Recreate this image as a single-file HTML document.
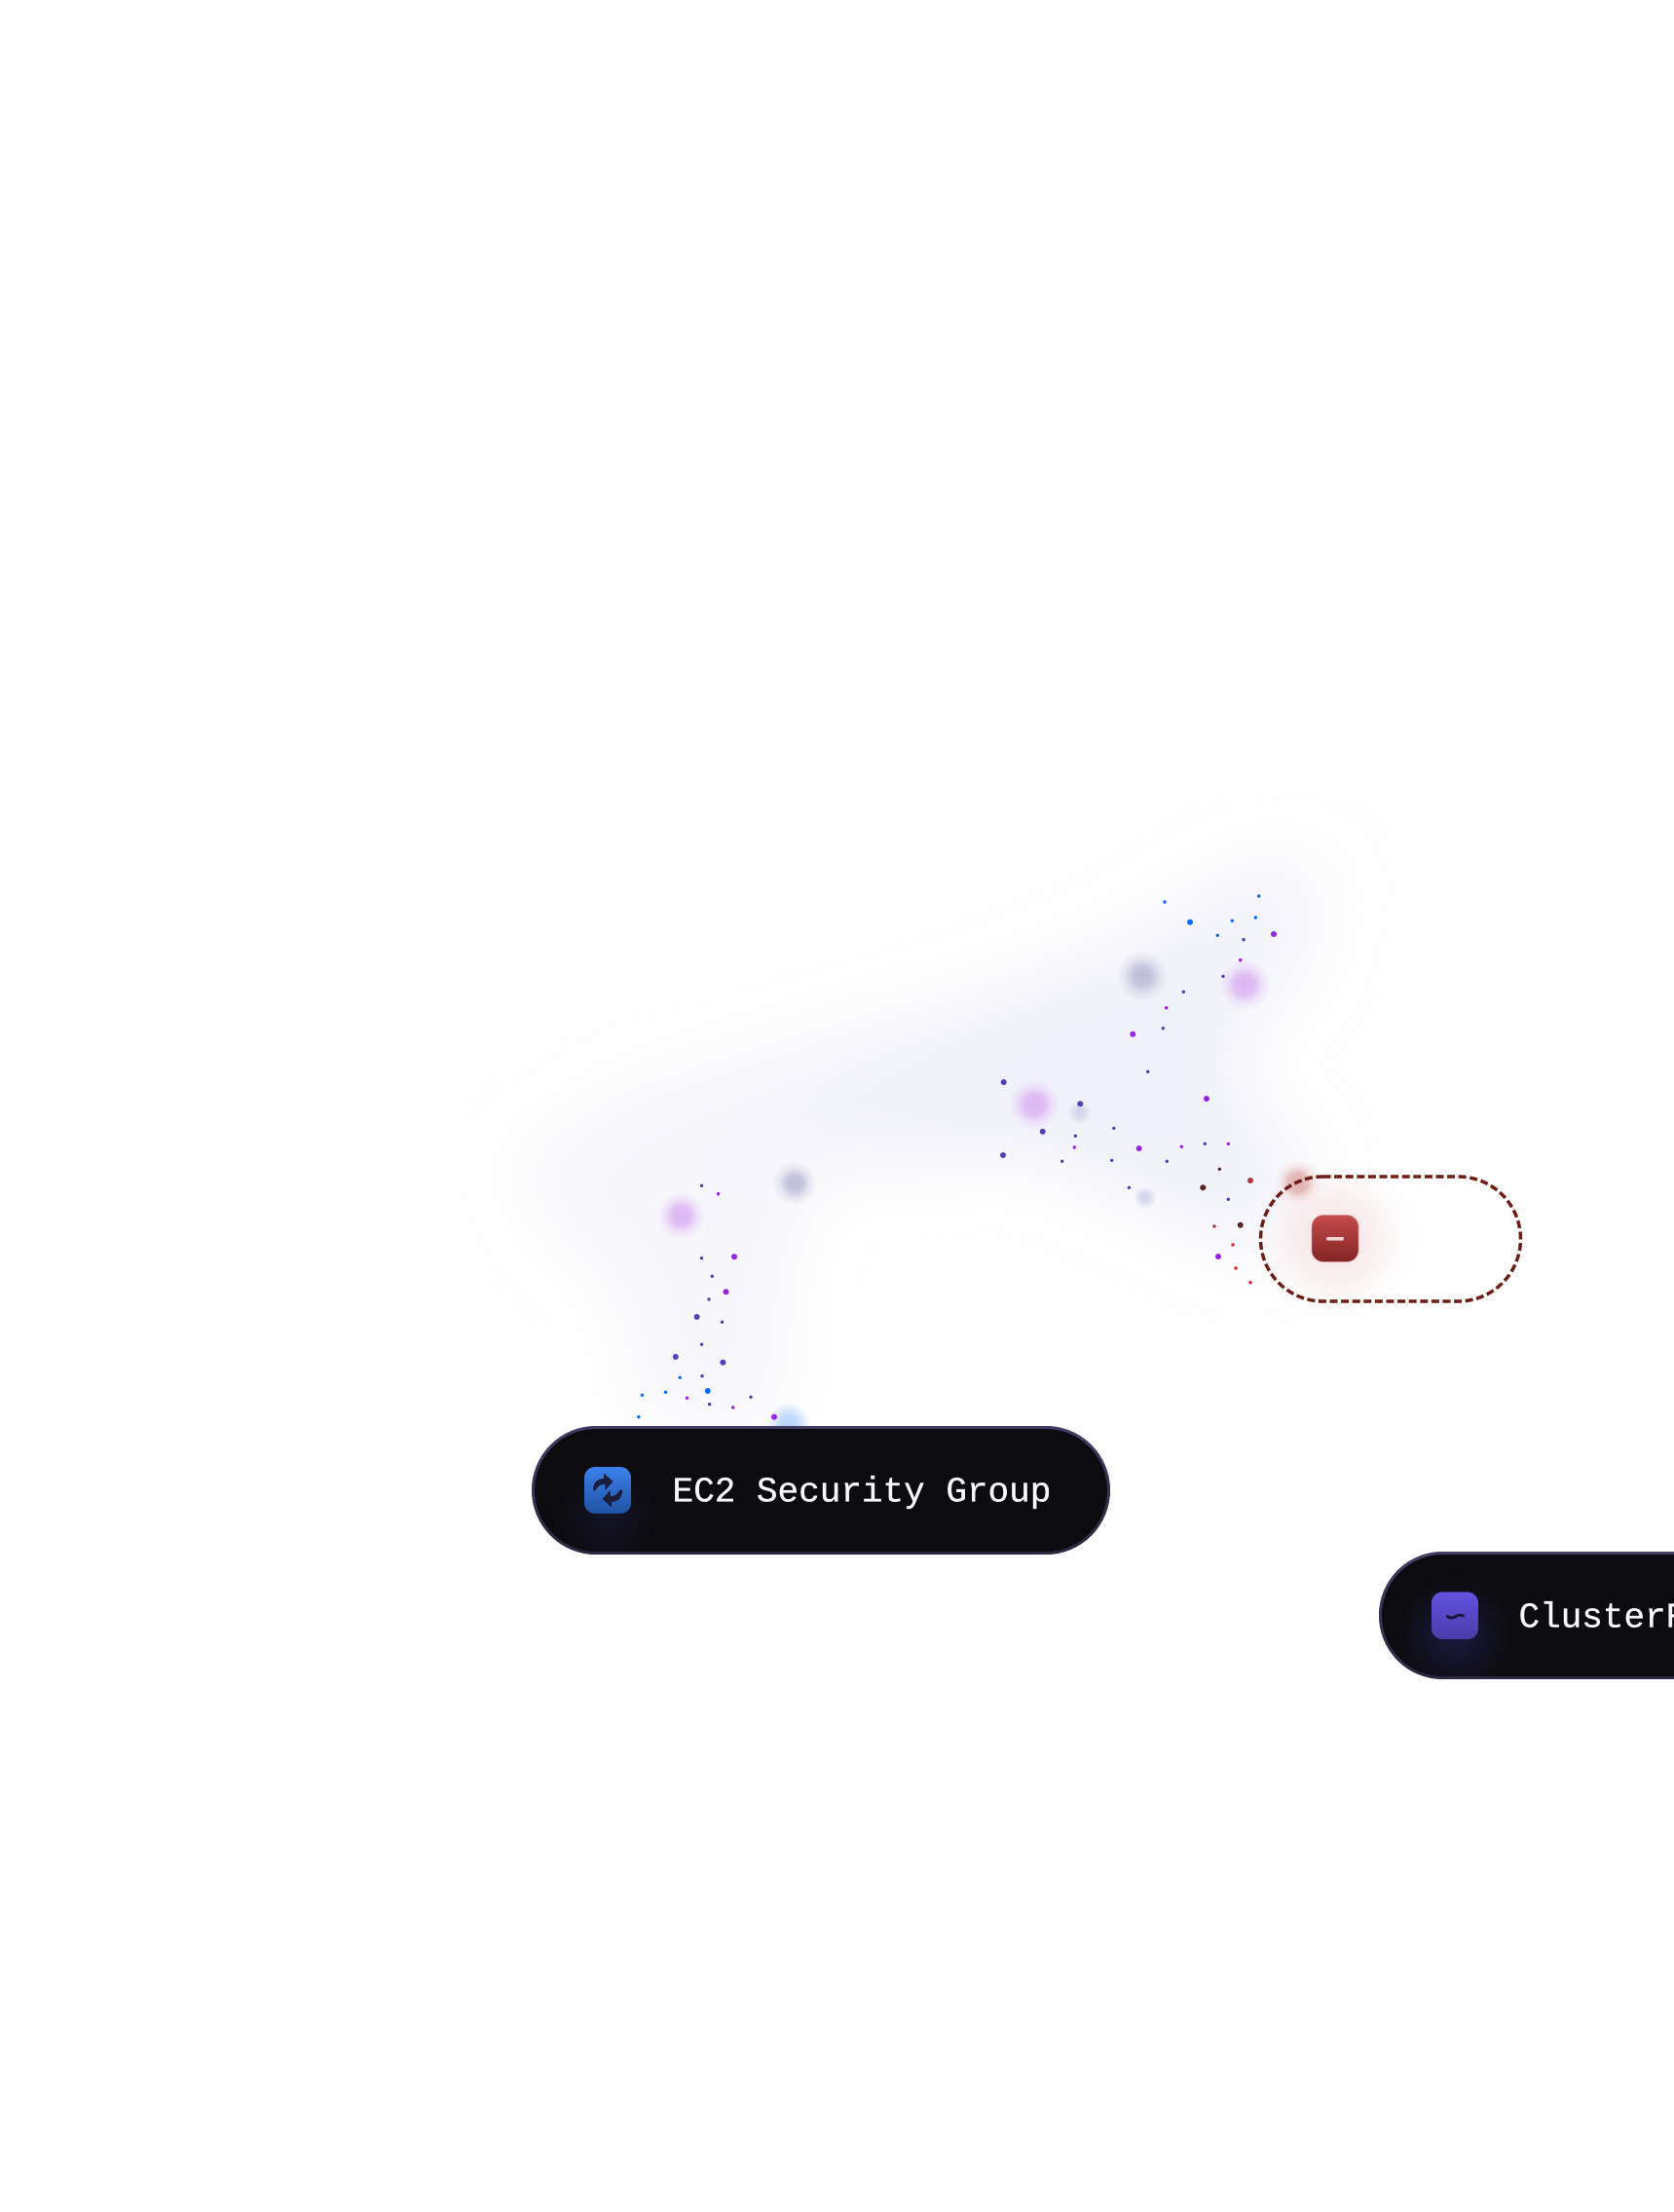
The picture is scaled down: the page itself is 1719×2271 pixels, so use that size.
<!DOCTYPE html>
<html>
<head>
<meta charset="utf-8">
<style>
html,body{margin:0;padding:0;background:#fefefe;width:1719px;height:2271px;overflow:hidden}
svg{display:block}
text{font-family:"Liberation Mono",monospace;font-size:36px}
</style>
</head>
<body>
<svg width="1719" height="2271" viewBox="0 0 1719 2271" xmlns="http://www.w3.org/2000/svg">
<defs>
<filter id="blur" x="-30%" y="-30%" width="160%" height="160%"><feGaussianBlur stdDeviation="34"/></filter>
<radialGradient id="flow" gradientUnits="userSpaceOnUse" cx="1130" cy="1100" r="680"><stop offset="0" stop-color="#eff0f9"/><stop offset=".45" stop-color="#f4f4fb"/><stop offset="1" stop-color="#f8f8fc"/></radialGradient>
<radialGradient id="gGray"><stop offset="0" stop-color="#bebcd6"/><stop offset=".35" stop-color="#c2c0da" stop-opacity=".9"/><stop offset=".68" stop-color="#c8c6de" stop-opacity=".35"/><stop offset="1" stop-color="#d0cee4" stop-opacity="0"/></radialGradient>
<radialGradient id="gPurple"><stop offset="0" stop-color="#dcb6f2"/><stop offset=".4" stop-color="#deb9f3" stop-opacity=".9"/><stop offset=".7" stop-color="#e4c6f5" stop-opacity=".38"/><stop offset="1" stop-color="#e8d0f6" stop-opacity="0"/></radialGradient>
<radialGradient id="gLight"><stop offset="0" stop-color="#d3d2ea"/><stop offset=".4" stop-color="#d6d5ec" stop-opacity=".85"/><stop offset="1" stop-color="#d6d5ec" stop-opacity="0"/></radialGradient>
<radialGradient id="gBlue"><stop offset="0" stop-color="#b4d4f8"/><stop offset=".4" stop-color="#b8d6f8" stop-opacity=".85"/><stop offset="1" stop-color="#b8d6f8" stop-opacity="0"/></radialGradient>
<radialGradient id="gRed"><stop offset="0" stop-color="#deaaaa"/><stop offset=".4" stop-color="#e2b4b4" stop-opacity=".85"/><stop offset=".7" stop-color="#ecc8c8" stop-opacity=".32"/><stop offset="1" stop-color="#f0d4d4" stop-opacity="0"/></radialGradient>
<radialGradient id="gRedHalo"><stop offset="0" stop-color="#eab8b8" stop-opacity=".45"/><stop offset=".55" stop-color="#f0cccc" stop-opacity=".26"/><stop offset=".8" stop-color="#f6e2e2" stop-opacity=".14"/><stop offset="1" stop-color="#f8eaea" stop-opacity="0"/></radialGradient>
<radialGradient id="gIndigo"><stop offset="0" stop-color="#231f55" stop-opacity=".7"/><stop offset="1" stop-color="#231f55" stop-opacity="0"/></radialGradient>
<linearGradient id="bd" x1="0" y1="0" x2="0" y2="1"><stop offset="0" stop-color="#433c66"/><stop offset="1" stop-color="#2b2840"/></linearGradient>
<linearGradient id="ib" x1="0" y1="0" x2="0" y2="1"><stop offset="0" stop-color="#3b81ec"/><stop offset="1" stop-color="#2053a3"/></linearGradient>
<linearGradient id="ip" x1="0" y1="0" x2="0" y2="1"><stop offset="0" stop-color="#6353e0"/><stop offset="1" stop-color="#4a3caa"/></linearGradient>
<linearGradient id="ir" x1="0" y1="0" x2="0" y2="1"><stop offset="0" stop-color="#c64c4c"/><stop offset="1" stop-color="#822424"/></linearGradient>
<clipPath id="p1"><rect x="546" y="1464" width="594" height="132" rx="66"/></clipPath>
<clipPath id="p2"><rect x="1416" y="1593" width="800" height="131" rx="65.5"/></clipPath>
</defs>

<!-- soft flow field -->
<path filter="url(#blur)" fill="url(#flow)" d="M535 1195 L650 1125 L810 1080 L1000 1030 L1150 975 L1290 890 L1355 895 L1335 990 L1265 1075 L1280 1130 L1340 1195 L1320 1265 L1280 1285 L1180 1235 L1060 1185 L840 1200 L805 1290 L795 1460 L665 1460 L640 1320 L570 1255 Z"/>

<!-- halo around red icon -->
<circle cx="1371" cy="1272" r="82" fill="url(#gRedHalo)"/>

<!-- blurred glows -->
<circle cx="1173.3" cy="1002.3" r="27" fill="url(#gGray)"/>
<circle cx="1278.3" cy="1011" r="27" fill="url(#gPurple)"/>
<circle cx="1062.3" cy="1134.3" r="27" fill="url(#gPurple)"/>
<circle cx="1108.7" cy="1142.3" r="12" fill="url(#gLight)"/>
<circle cx="1175.8" cy="1229.5" r="12" fill="url(#gLight)"/>
<circle cx="699.6" cy="1248.3" r="25" fill="url(#gPurple)"/>
<circle cx="816" cy="1215" r="23" fill="url(#gGray)"/>
<circle cx="810" cy="1462" r="22" fill="url(#gBlue)"/>
<circle cx="1332.7" cy="1214.3" r="25" fill="url(#gRed)"/>

<!-- blue particles -->
<g fill="#0a6cf6">
<circle cx="1196" cy="926" r="1.7"/><circle cx="1222" cy="946.7" r="3"/><circle cx="1265.3" cy="945.3" r="1.7"/><circle cx="1292.7" cy="920" r="1.7"/><circle cx="1289.3" cy="942" r="1.7"/><circle cx="1250.3" cy="960.3" r="1.7"/>
<circle cx="659.4" cy="1432.3" r="1.7"/><circle cx="683.5" cy="1429.3" r="1.7"/><circle cx="726.8" cy="1428" r="3"/><circle cx="655.8" cy="1454.7" r="1.7"/><circle cx="698.2" cy="1414.3" r="1.7"/>
</g>
<!-- purple particles -->
<g fill="#9a22e2">
<circle cx="1308" cy="959" r="3"/><circle cx="1273.7" cy="985.7" r="1.7"/><circle cx="1197.7" cy="1034.7" r="1.7"/><circle cx="1163.3" cy="1061.7" r="3"/><circle cx="1239" cy="1128" r="3"/><circle cx="1169.7" cy="1179" r="3"/><circle cx="1213.3" cy="1177.3" r="1.7"/><circle cx="1261.3" cy="1174.3" r="1.7"/><circle cx="1103.3" cy="1178" r="1.7"/><circle cx="1251" cy="1290" r="3"/>
<circle cx="737.5" cy="1225.7" r="1.7"/><circle cx="754" cy="1290.3" r="3"/><circle cx="745.5" cy="1326.3" r="3"/><circle cx="705.4" cy="1435.3" r="1.7"/><circle cx="752.7" cy="1445" r="1.7"/><circle cx="795" cy="1454.7" r="3"/>
</g>
<!-- indigo particles -->
<g fill="#5440b8">
<circle cx="1277" cy="964.7" r="1.7"/><circle cx="1256" cy="1002.3" r="1.7"/><circle cx="1215.3" cy="1018.3" r="1.7"/><circle cx="1194.3" cy="1055.7" r="1.7"/><circle cx="1178.7" cy="1100.3" r="1.7"/><circle cx="1030.7" cy="1111" r="3"/><circle cx="1109.3" cy="1133.3" r="3"/><circle cx="1070.7" cy="1161.7" r="3"/><circle cx="1143.8" cy="1158.3" r="1.7"/><circle cx="1104.3" cy="1166.2" r="1.7"/><circle cx="1237.3" cy="1174.3" r="1.7"/><circle cx="1030" cy="1186" r="3"/><circle cx="1090.7" cy="1192.3" r="1.7"/><circle cx="1141.7" cy="1191.3" r="1.7"/><circle cx="1198.3" cy="1192.3" r="1.7"/><circle cx="1159.3" cy="1219.3" r="1.7"/><circle cx="1261.3" cy="1231.3" r="1.7"/>
<circle cx="720.5" cy="1217.3" r="1.7"/><circle cx="720.5" cy="1291.7" r="1.7"/><circle cx="731.3" cy="1310.3" r="1.7"/><circle cx="728" cy="1334" r="1.7"/><circle cx="715.6" cy="1352" r="3"/><circle cx="741.5" cy="1357.3" r="1.7"/><circle cx="720.5" cy="1380.3" r="1.7"/><circle cx="693.8" cy="1393" r="3"/><circle cx="742.4" cy="1398.7" r="3"/><circle cx="721" cy="1412.7" r="1.7"/><circle cx="771" cy="1434.3" r="1.7"/><circle cx="728.6" cy="1441.7" r="1.7"/>
</g>
<!-- brown / red particles -->
<g fill="#5c2424"><circle cx="1252.3" cy="1200.3" r="1.7"/><circle cx="1235.3" cy="1219.3" r="3"/><circle cx="1273.7" cy="1257.7" r="3"/></g>
<g fill="#b03838"><circle cx="1284" cy="1212" r="3"/><circle cx="1247" cy="1259" r="1.7"/></g>
<g fill="#e0222c"><circle cx="1266" cy="1278" r="1.7"/><circle cx="1269" cy="1302" r="1.7"/><circle cx="1284" cy="1316.7" r="1.7"/></g>

<!-- deleted Pod node -->
<rect x="1294.5" y="1208" width="267" height="128" rx="64" fill="none" stroke="#6c1e14" stroke-width="3.5" stroke-dasharray="8 3.6"/>
<rect x="1347" y="1247.5" width="48" height="48" rx="12" fill="url(#ir)" stroke="#d98c8c" stroke-opacity=".6" stroke-width="1"/>
<rect x="1362" y="1270" width="18" height="3.6" rx="1.8" fill="#f3d4d4"/>
<text x="1439" y="1283" fill="#fefefe">Pod</text>

<!-- EC2 Security Group -->
<rect x="546" y="1464" width="594" height="132" rx="66" fill="#0c0c10"/>
<g clip-path="url(#p1)"><circle cx="624" cy="1555" r="50" fill="url(#gIndigo)" opacity=".55"/></g>
<rect x="547.5" y="1465.5" width="591" height="129" rx="64.5" fill="none" stroke="url(#bd)" stroke-width="3"/>
<rect x="600" y="1506" width="48" height="48" rx="11" fill="url(#ib)"/>
<g transform="translate(600 1506)" fill="#1a1d3c">
<path d="M9 24 C9 16 14 12 20 12 L20 6.5 L29.5 15 L21.5 24 L21 18 C17 18 14.5 19.5 13 22 C12 24 10 25.5 9 24 Z"/>
<path transform="rotate(180 24 24)" d="M9 24 C9 16 14 12 20 12 L20 6.5 L29.5 15 L21.5 24 L21 18 C17 18 14.5 19.5 13 22 C12 24 10 25.5 9 24 Z"/>
</g>
<text x="690.5" y="1541.5" fill="#f7f7f7" stroke="#f7f7f7" stroke-width=".35">EC2 Security Group</text>

<!-- ClusterRole node -->
<rect x="1416" y="1593" width="800" height="131" rx="65.5" fill="#0c0c10"/>
<g clip-path="url(#p2)"><circle cx="1494" cy="1678" r="58" fill="url(#gIndigo)"/></g>
<rect x="1417.5" y="1594.5" width="797" height="128" rx="64" fill="none" stroke="url(#bd)" stroke-width="3"/>
<rect x="1470" y="1634.5" width="48" height="48.5" rx="11" fill="url(#ip)"/>
<path d="M1486.5 1659.5 C1490 1662 1493 1661 1495 1659.5 C1497 1658 1500 1657.5 1502.5 1659" fill="none" stroke="#1b1740" stroke-width="3" stroke-linecap="round"/>
<text x="1559.5" y="1670.5" fill="#f7f7f7" stroke="#f7f7f7" stroke-width=".35">ClusterRoleBinding</text>
</svg>
</body>
</html>
